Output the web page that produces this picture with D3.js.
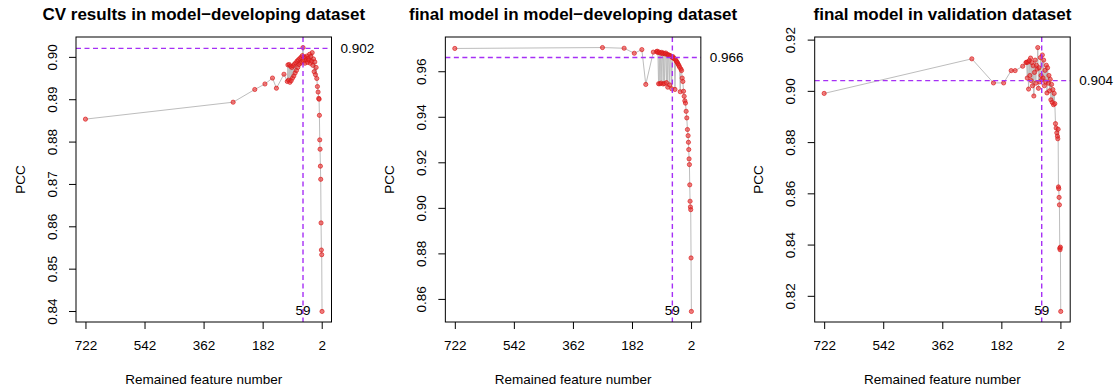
<!DOCTYPE html>
<html lang="en">
<head>
<meta charset="utf-8">
<title>PCC vs remained feature number</title>
<script src="https://d3js.org/d3.v7.min.js"></script>
<style>
  body { margin: 0; background: #fff; }
  svg text { font-family: "Liberation Sans", Arial, Helvetica, sans-serif; fill: #000; }
</style>
</head>
<body>
<div id="chart"></div>
<script>
// remained feature numbers, shared by the three panels
var featureNum = [722, 272, 206, 175, 152, 140, 117,
  107, 105, 103, 101, 99, 97, 95, 93, 91, 89, 87, 85, 83, 81, 79, 77, 75, 73, 71, 69, 67, 65, 63, 61,
  59, 57, 55, 53, 51, 49, 47, 45, 43, 41, 39, 37, 35, 33, 31, 29, 27, 25, 23, 21, 19, 17, 15, 13, 11,
  10, 9, 8, 7, 6, 5, 4, 3, 2, 1];

// CV results in model-developing dataset
var cvPcc = [0.8853, 0.8893, 0.8923, 0.8936, 0.8950, 0.8926, 0.8959,
  0.8942, 0.8981, 0.8945, 0.8982, 0.8940, 0.8978, 0.8944, 0.8975, 0.8950, 0.8979, 0.8955, 0.8983, 0.8962, 0.8986,
  0.8968, 0.8990, 0.8975, 0.8993, 0.8982, 0.8996, 0.8985, 0.8999, 0.8988, 0.9003,
  0.9022, 0.8990, 0.9000, 0.8985, 0.8998, 0.8993, 0.9002, 0.8987, 0.8996, 0.8992, 0.9006, 0.8985, 0.9001, 0.8990,
  0.9010, 0.8980, 0.8995, 0.8965, 0.8988, 0.8958, 0.8975, 0.8949, 0.8930, 0.8917, 0.8902,
  0.8900, 0.8862, 0.8804, 0.8782, 0.8742, 0.8711, 0.8608, 0.8544, 0.8533, 0.8399];

// final model in model-developing dataset
var devPcc = [0.9700, 0.9704, 0.9701, 0.9679, 0.9695, 0.9542, 0.9684,
  0.9686, 0.9688, 0.9682, 0.9545, 0.9684, 0.9545, 0.9680, 0.9548, 0.9683, 0.9677, 0.9544, 0.9679, 0.9546, 0.9676,
  0.9680, 0.9550, 0.9674, 0.9530, 0.9672, 0.9670, 0.9540, 0.9668, 0.9666, 0.9523,
  0.9660, 0.9664, 0.9658, 0.9655, 0.9520, 0.9650, 0.9645, 0.9640, 0.9636, 0.9630, 0.9625, 0.9618, 0.9510, 0.9610,
  0.9603, 0.9570, 0.9555, 0.9512, 0.9490, 0.9470, 0.9460, 0.9424, 0.9395, 0.9344, 0.9317,
  0.9288, 0.9256, 0.9215, 0.9190, 0.9101, 0.9029, 0.9004, 0.8992, 0.8780, 0.8545];

// final model in validation dataset
var valPcc = [0.8990, 0.9125, 0.9031, 0.9031, 0.9079, 0.9079, 0.9096,
  0.9110, 0.9112, 0.9050, 0.9112, 0.9007, 0.9118, 0.9060, 0.9128, 0.9040, 0.9110, 0.9020, 0.9098, 0.8980, 0.9072,
  0.9120, 0.9030, 0.9100, 0.9085, 0.9169, 0.9010, 0.9090, 0.9035, 0.9130, 0.9060,
  0.9043, 0.9140, 0.9050, 0.9120, 0.9020, 0.9080, 0.9035, 0.9100, 0.8992, 0.9090, 0.9030, 0.9060, 0.9000, 0.9045,
  0.8965, 0.9025, 0.8955, 0.9005, 0.8946, 0.8990, 0.8950, 0.8872, 0.8855, 0.8836, 0.8823,
  0.8813, 0.8850, 0.8625, 0.8618, 0.8584, 0.8555, 0.8386, 0.8380, 0.8390, 0.8139];

var titles = ["CV results in model\u2212developing dataset",
              "final model in model\u2212developing dataset",
              "final model in validation dataset"];
var bestNum = 59;
var bestPcc = [0.902, 0.966, 0.904];
var bestLabels = ["0.902", "0.966", "0.904"];
var xTicks = [722, 542, 362, 182, 2];
var yTicks1 = [0.84, 0.85, 0.86, 0.87, 0.88, 0.89, 0.90];
var yTicks2 = [0.86, 0.88, 0.90, 0.92, 0.94, 0.96];
var yTicks3 = [0.82, 0.84, 0.86, 0.88, 0.90, 0.92];

var W = 1115, H = 391;
var svg = d3.select("#chart").append("svg")
    .attr("width", W)
    .attr("height", H);

var panels = [
  {vals: cvPcc, ticks: yTicks1},
  {vals: devPcc, ticks: yTicks2},
  {vals: valPcc, ticks: yTicks3}
];

var boxW = 255.5, boxH = 285, boxTop = 37;

panels.forEach(function(p, i){
    var boxLeft = 76 + i * 369.35;
    var g = svg.append("g").attr("transform", "translate(" + boxLeft + "," + boxTop + ")");

    // R style axis limits, 4% padding on each side
    var xr = d3.extent(featureNum), xp = (xr[1] - xr[0]) * 0.04;
    var x = d3.scaleLinear().domain([xr[1] + xp, xr[0] - xp]).range([0, boxW]);
    var yr = d3.extent(p.vals), yp = (yr[1] - yr[0]) * 0.04;
    var y = d3.scaleLinear().domain([yr[0] - yp, yr[1] + yp]).range([boxH, 0]);

    var pts = featureNum.map(function(f, k){ return [f, p.vals[k]]; });

    // connecting line
    g.append("path")
        .datum(pts)
        .attr("fill", "none")
        .attr("stroke", "#bdbdbd")
        .attr("stroke-width", 1)
        .attr("d", d3.line().x(function(d){ return x(d[0]); }).y(function(d){ return y(d[1]); }));

    // points
    g.selectAll("circle")
        .data(pts)
        .enter()
        .append("circle")
            .attr("cx", function(d){ return x(d[0]); })
            .attr("cy", function(d){ return y(d[1]); })
            .attr("r", 2.1)
            .attr("fill", "rgba(235,45,45,0.6)")
            .attr("stroke", "rgba(215,25,25,0.85)")
            .attr("stroke-width", 0.8);

    // best cut-offs
    g.append("line")
        .attr("x1", 0).attr("x2", boxW)
        .attr("y1", y(bestPcc[i])).attr("y2", y(bestPcc[i]))
        .attr("stroke", "#a630f5").attr("stroke-width", 1.4)
        .attr("stroke-dasharray", "5,3.5");
    g.append("line")
        .attr("x1", x(bestNum)).attr("x2", x(bestNum))
        .attr("y1", 0).attr("y2", boxH)
        .attr("stroke", "#a630f5").attr("stroke-width", 1.4)
        .attr("stroke-dasharray", "5,3.5");

    g.append("text")
        .attr("x", boxW + 9)
        .attr("y", y(bestPcc[i]))
        .attr("dy", "0.35em")
        .attr("font-size", "13.5px")
        .text(bestLabels[i]);
    g.append("text")
        .attr("x", x(bestNum))
        .attr("y", boxH - 12)
        .attr("dy", "0.35em")
        .attr("text-anchor", "middle")
        .attr("font-size", "13.5px")
        .text(bestNum);

    // box
    g.append("rect")
        .attr("width", boxW).attr("height", boxH)
        .attr("fill", "none").attr("stroke", "#000").attr("stroke-width", 1);

    // x axis
    var xAxis = d3.axisBottom(x).tickValues(xTicks).tickSize(7).tickPadding(11).tickFormat(d3.format("d"));
    var gx = g.append("g").attr("transform", "translate(0," + boxH + ")").call(xAxis);
    gx.select(".domain").remove();
    gx.selectAll("text").attr("font-size", "13.5px");
    gx.attr("font-family", null).attr("font-size", null);

    // y axis with vertical labels
    var yAxis = d3.axisLeft(y).tickValues(p.ticks).tickSize(7).tickFormat(d3.format(".2f"));
    var gy = g.append("g").call(yAxis);
    gy.select(".domain").remove();
    gy.attr("font-family", null).attr("font-size", null);
    gy.selectAll(".tick text")
        .attr("x", null).attr("dy", null)
        .attr("transform", "translate(-24,0) rotate(-90)")
        .attr("text-anchor", "middle")
        .attr("dominant-baseline", "central")
        .attr("font-size", "13.5px");

    // titles
    g.append("text")
        .attr("x", boxW / 2).attr("y", 20 - boxTop)
        .attr("text-anchor", "middle")
        .attr("font-size", "17px")
        .attr("font-weight", "bold")
        .text(titles[i]);
    g.append("text")
        .attr("x", boxW / 2).attr("y", 384 - boxTop)
        .attr("text-anchor", "middle")
        .attr("font-size", "13.5px")
        .text("Remained feature number");
    g.append("text")
        .attr("transform", "translate(-56," + (boxH / 2) + ") rotate(-90)")
        .attr("text-anchor", "middle")
        .attr("dominant-baseline", "central")
        .attr("font-size", "13.5px")
        .text("PCC");
});
</script>
</body>
</html>
